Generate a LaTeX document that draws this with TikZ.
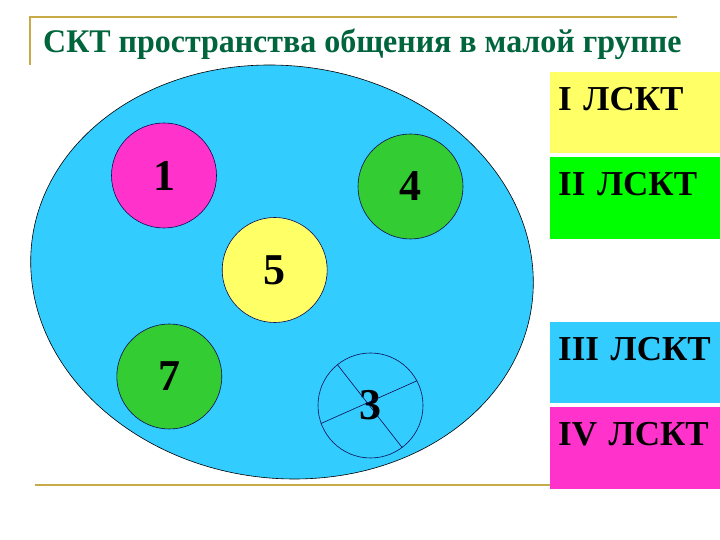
\documentclass[tikz,border=0pt]{standalone}
\usepackage{fontspec}
\setmainfont{Liberation Serif}
\usepackage{tikz}
\usetikzlibrary{positioning,calc}
\definecolor{skyfill}{RGB}{51,204,255}
\definecolor{pinkfill}{RGB}{255,51,204}
\definecolor{lemonfill}{RGB}{255,255,102}
\definecolor{leaffill}{RGB}{51,204,51}
\definecolor{limefill}{RGB}{0,255,0}
\definecolor{navyline}{RGB}{10,10,80}
\definecolor{titlegreen}{RGB}{0,100,60}
\definecolor{ruleline}{RGB}{200,170,70}
\tikzset{
  member/.style={
    circle,
    draw=navyline,
    line width=0.6pt,
    minimum size=105pt,
    inner sep=0pt,
    font=\fontsize{44}{44}\selectfont\bfseries
  },
  layer/.style={
    rectangle,
    minimum width=170pt,
    minimum height=81.5pt,
    text width=154pt,
    align=left,
    inner xsep=8pt,
    inner ysep=14.3pt,
    text height=24pt,
    text depth=28.9pt,
    font=\fontsize{35}{35}\selectfont\bfseries
  },
  rulestroke/.style={
    draw=ruleline,
    line width=2pt
  }
}

\begin{document}
\begin{tikzpicture}[x=1pt, y=1pt, node distance=3.5pt]
    \useasboundingbox (0,0) rectangle (720,540);

    % group space
    \draw[black, line width=0.6pt, fill=skyfill, cm={1,0,-0.06,1,(282,268)}]
      (0,0) ellipse [x radius=251, y radius=207];

    \node [member, fill=pinkfill] (c1) at (164,364.5) {1};
    \node [member, fill=leaffill] (c4) at (410.5,353.5) {4};
    \node [member, fill=lemonfill] (c5) at (274.7,270) {5};
    \node [member, fill=leaffill] (c7) at (169.3,163.5) {7};
    \node [member, fill=skyfill] (c3) at (370.5,134.5) {3};

    \draw [navyline, line width=0.6pt] (c3.129) -- (c3.307);
    \draw [navyline, line width=0.6pt] (c3.200) -- (c3.28);

    % levels
    \node [layer, fill=lemonfill, anchor=north west] (l1) at (550,468.3) {I ЛСКТ};
    \node [layer, fill=limefill, below= of l1] (l2) {II ЛСКТ};
    \node [layer, fill=skyfill, below=82.8pt of l2] (l3) {III ЛСКТ};
    \node [layer, fill=pinkfill, below= of l3] (l4) {IV ЛСКТ};

    % title frame
    \node [anchor=base west, inner sep=0pt, text=titlegreen,
      font=\fontsize{33}{33}\selectfont\bfseries] (title) at (43,487)
      {\scalebox{0.968}[1]{СКТ пространства общения в малой группе}};
    \draw [rulestroke] (30,475) -- (30,522.5) -- (677,522.5);
    \draw [rulestroke] (35,55) -- (l4.south west |- 0,55);
\end{tikzpicture}
\end{document}
